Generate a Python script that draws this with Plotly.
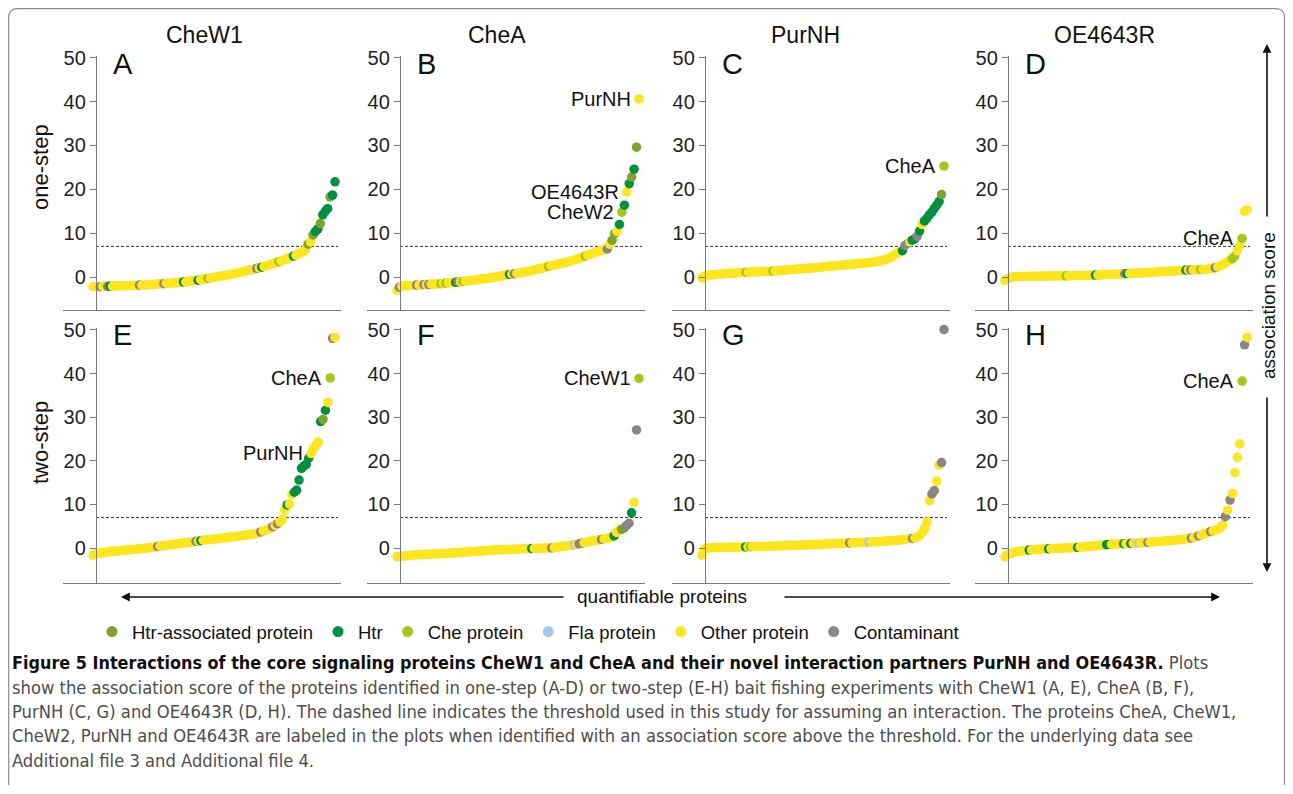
import plotly.graph_objects as go

# page is 1293x794; the html body adds an 8px margin, so the figure itself is a bit smaller
PAGE_W, PAGE_H = 1293, 794
BODY_MARGIN = 8
FW, FH = PAGE_W - 2 * BODY_MARGIN, PAGE_H - 2 * BODY_MARGIN - 1

# ---------------- data ----------------
cat_order = ["A", "H", "K", "F", "O", "C"]
cat_names = {"A": "Htr-associated protein", "H": "Htr", "K": "Che protein",
             "F": "Fla protein", "O": "Other protein", "C": "Contaminant"}
cat_colors = {"A": "#7ba52b", "H": "#00923f", "K": "#a5c817", "F": "#a8c8ea",
              "O": "#ffe51c", "C": "#8a8688"}

bait_titles = ["CheW1", "CheA", "PurNH", "OE4643R"]
panel_letters = ["A", "B", "C", "D", "E", "F", "G", "H"]
row_labels = ["one-step", "two-step"]
threshold = 7
y_ticks = [0, 10, 20, 30, 40, 50]

a_scores = [-2.2, -2.2, -2.2, -2.2, -2.1, -2.1, -2.1, -2.1,
            -2.1, -2.0, -2.0, -2.0, -2.0, -2.0, -1.9, -1.9, -1.9, -1.9, -1.9, -1.8, -1.8,
            -1.8, -1.8, -1.7, -1.7, -1.7, -1.6, -1.6, -1.5, -1.5, -1.4,
            -1.4, -1.4, -1.3, -1.3, -1.2, -1.2, -1.1, -1.1,
            -1.0, -0.9, -0.8, -0.8, -0.7, -0.6, -0.5,
            -0.4, -0.3, -0.2, -0.1, 0.0, 0.1, 0.2, 0.3, 0.35, 0.45,
            0.55, 0.7, 0.8, 0.9, 1.05, 1.2,
            1.3, 1.45, 1.6, 1.7, 1.85, 2.0, 2.1,
            2.25, 2.4, 2.6, 2.8, 2.95, 3.1, 3.3,
            3.5, 3.7, 3.9, 4.1, 4.3, 4.55, 4.8,
            5.0, 5.3, 5.5, 5.8, 6.3,
            7.5, 8.0, 9.6, 10.4, 11.0, 12.2, 14.2, 15.0, 15.6, 18.3, 18.7, 21.7]
a_special_idx = [3, 6, 7, 19, 29, 37, 43, 47, 67, 69, 76, 82, 88, 90, 91, 92, 93, 94, 95, 96, 97, 98, 99]
a_special_cat = ["C", "C", "H", "C", "C", "H", "H", "K", "C", "H", "K", "H",
                 "A", "A", "H", "H", "A", "H", "H", "H", "A", "H", "H"]
a_label_idx = []
a_label_text = []

b_scores = [-3.0, -2.3, -2.1, -2.0, -2.0, -1.9, -1.9, -1.9, -1.8, -1.8, -1.8, -1.7, -1.7,
            -1.7, -1.6, -1.6, -1.6, -1.5, -1.5, -1.4, -1.4, -1.3, -1.3, -1.2, -1.2, -1.1,
            -1.05, -1.0, -0.9, -0.85, -0.8, -0.7, -0.65, -0.6, -0.5, -0.4, -0.35, -0.3, -0.2, -0.1,
            0.0, 0.1, 0.2, 0.3, 0.4, 0.5, 0.6,
            0.7, 0.75, 0.85, 0.9, 1.0, 1.1, 1.2,
            1.3, 1.45, 1.6, 1.75, 1.9, 2.0, 2.15, 2.3, 2.45, 2.6,
            2.7, 2.8, 2.95, 3.1, 3.2, 3.35, 3.5,
            3.65, 3.8, 4.0, 4.2, 4.4, 4.6, 4.8,
            5.0, 5.2, 5.4, 5.6, 5.8, 6.0, 6.1, 6.2,
            6.4, 7.5, 8.4, 9.9, 10.4, 12.0, 14.8, 16.4, 19.4, 21.3, 22.8, 24.6, 29.6, 40.6]
b_special_idx = [1, 8, 11, 13, 18, 20, 24, 25, 27, 46, 48, 62, 77, 86, 88, 89, 91, 92, 93, 95, 96, 97, 98]
b_special_cat = ["C", "C", "C", "C", "K", "K", "H", "C", "K", "H", "C", "K", "K",
                 "C", "A", "A", "H", "K", "H", "H", "A", "H", "A"]
b_label_idx = [99, 94, 92]
b_label_text = ["PurNH", "OE4643R", "CheW2"]

c_scores = [-0.2, 0.2, 0.35, 0.45,
            0.5, 0.55, 0.6, 0.65, 0.7, 0.75, 0.8, 0.85, 0.9, 0.9, 0.95, 1.0, 1.0, 1.05, 1.1,
            1.1, 1.15, 1.15, 1.2, 1.2, 1.25, 1.25, 1.3, 1.3, 1.35, 1.4,
            1.4, 1.45, 1.5, 1.55, 1.6, 1.65, 1.7, 1.7, 1.75, 1.8, 1.85, 1.9, 2.0,
            2.0, 2.05, 2.1, 2.15, 2.2, 2.25, 2.3, 2.35, 2.4, 2.45, 2.5, 2.55, 2.6,
            2.65, 2.7, 2.75, 2.8, 2.85, 2.9, 2.95, 3.0, 3.05, 3.1, 3.15, 3.2, 3.25, 3.3,
            3.4, 3.5, 3.6, 3.7, 3.85, 4.0, 4.2, 4.5, 4.8, 5.2, 5.5, 5.8,
            6.0, 7.2, 7.6, 8.0, 8.4, 8.7, 9.3, 10.5, 12.0, 12.8, 13.4, 14.2, 14.8, 15.6, 16.4, 17.2, 18.8, 25.3]
c_special_idx = [18, 29, 82, 83, 84, 86, 87, 88, 89, 91, 92, 93, 94, 95, 96, 97, 98, 99]
c_special_cat = ["K", "K", "H", "C", "C", "H", "H", "C", "H", "H", "H", "H", "H", "H", "H", "H", "A", "K"]
c_label_idx = [99]
c_label_text = ["CheA"]

d_scores = [-0.8, -0.4, -0.2, 0.0, 0.1,
            0.1, 0.12, 0.14, 0.15, 0.16, 0.17, 0.18, 0.19, 0.2, 0.2, 0.21, 0.22, 0.23, 0.24, 0.25,
            0.26, 0.27, 0.28, 0.28, 0.29, 0.3,
            0.31, 0.32, 0.33, 0.34, 0.35, 0.36, 0.37, 0.38, 0.4, 0.42, 0.43, 0.45,
            0.47, 0.5, 0.52, 0.55, 0.57, 0.6, 0.62, 0.65, 0.68, 0.7, 0.73, 0.76, 0.8,
            0.83, 0.86, 0.89, 0.92, 0.95, 0.98, 1.0, 1.03, 1.06, 1.1, 1.13, 1.16, 1.2, 1.23, 1.26,
            1.3, 1.33, 1.36, 1.4, 1.44, 1.48, 1.52, 1.56, 1.6,
            1.62, 1.64, 1.66, 1.68, 1.7, 1.72, 1.75, 1.8, 1.85, 1.95, 2.05, 2.15, 2.3,
            2.5, 2.8, 3.1, 3.5, 3.8, 4.2,
            4.8, 6.0, 7.2, 8.8, 15.0, 15.3]
d_special_idx = [25, 37, 49, 50, 74, 76, 80, 86, 93, 94, 97]
d_special_cat = ["K", "H", "C", "H", "H", "C", "K", "C", "K", "K", "K"]
d_label_idx = [97]
d_label_text = ["CheA"]

e_scores = [-1.6, -1.4, -1.25, -1.15, -1.05, -0.95, -0.88, -0.8,
            -0.75, -0.7, -0.65, -0.6, -0.55, -0.5, -0.45, -0.4, -0.35, -0.3, -0.25, -0.2, -0.15, -0.1,
            -0.02, 0.05, 0.12, 0.2, 0.28, 0.36, 0.45,
            0.52, 0.6, 0.67, 0.74, 0.82, 0.9, 0.97, 1.04, 1.1, 1.17, 1.24, 1.31, 1.38, 1.45,
            1.55, 1.62, 1.7, 1.8,
            1.86, 1.92, 1.98, 2.04, 2.1, 2.16, 2.22, 2.3, 2.38, 2.45,
            2.52, 2.58, 2.64, 2.7, 2.76, 2.83, 2.9, 2.97, 3.05, 3.15, 3.25, 3.35, 3.5, 3.7,
            3.9, 4.1, 4.3, 4.5, 4.9, 5.2, 5.6, 6.0,
            6.6, 8.7, 9.9, 10.1, 12.3, 12.8, 13.3, 15.6, 18.3, 18.8, 19.2, 20.6, 21.7, 22.8,
            23.6, 24.3, 29.0, 29.5, 31.6, 33.4, 39.0, 48.1, 48.3]
e_special_idx = [27, 43, 45, 70, 75, 77, 81, 84, 85, 86, 87, 88, 89, 90, 95, 96, 97, 99, 100]
e_special_cat = ["C", "C", "H", "C", "C", "C", "H", "H", "H", "H", "H", "H", "H", "H",
                 "H", "A", "H", "K", "C"]
e_label_idx = [99, 91]
e_label_text = ["CheA", "PurNH"]

f_scores = [-2.0, -1.9, -1.85, -1.8, -1.75, -1.7, -1.65, -1.6, -1.55, -1.5, -1.5, -1.45, -1.4,
            -1.4, -1.37, -1.34, -1.31, -1.28, -1.25, -1.22, -1.19, -1.16, -1.13, -1.1, -1.05, -1.0,
            -0.96, -0.92, -0.88, -0.84, -0.8, -0.76, -0.72, -0.68, -0.64, -0.6, -0.55, -0.5, -0.45,
            -0.43, -0.41, -0.39, -0.37, -0.35, -0.33, -0.31, -0.29, -0.27, -0.25, -0.22, -0.19,
            -0.16, -0.14, -0.12, -0.1,
            -0.08, -0.06, -0.04, -0.02, 0.0, 0.02, 0.04, 0.05,
            0.12, 0.2, 0.28, 0.36, 0.44, 0.52, 0.6, 0.68, 0.76, 0.85,
            0.97, 1.1, 1.22, 1.35, 1.47, 1.6,
            1.7, 1.8, 1.9, 2.0, 2.1, 2.2, 2.35,
            2.5, 2.8, 3.6, 4.1, 4.3, 4.6, 5.2, 5.7, 8.1, 10.5, 27.1, 38.9]
f_special_idx = [54, 62, 71, 73, 74, 82, 87, 90, 91, 92, 93, 94, 96, 97]
f_special_cat = ["H", "C", "F", "C", "C", "C", "H", "A", "A", "C", "C", "H", "C", "K"]
f_label_idx = [97]
f_label_text = ["CheW1"]

g_scores = [-1.6, -0.2, 0.0, 0.05, 0.08, 0.1, 0.12, 0.14, 0.15,
            0.16, 0.17, 0.18, 0.19, 0.2, 0.21, 0.22, 0.24, 0.26, 0.28, 0.3,
            0.31, 0.33, 0.35, 0.36, 0.38, 0.4, 0.41, 0.43, 0.45, 0.47, 0.48, 0.5, 0.52, 0.54,
            0.55, 0.57, 0.59, 0.61, 0.63, 0.64, 0.66, 0.68, 0.7,
            0.72, 0.75, 0.77, 0.8, 0.82, 0.85, 0.87, 0.9, 0.92, 0.95, 0.97, 1.0, 1.02, 1.05,
            1.07, 1.1, 1.12, 1.15, 1.17, 1.2,
            1.22, 1.25, 1.27, 1.3, 1.32, 1.35, 1.37, 1.4,
            1.43, 1.46, 1.49, 1.52, 1.56, 1.6, 1.64, 1.68, 1.72, 1.77, 1.83, 1.9, 2.0,
            2.05, 2.1, 2.15, 2.2, 2.3, 2.5, 2.9, 3.6,
            4.5, 6.0, 10.9, 12.4, 13.2, 15.3, 19.0, 19.6, 50.1]
g_special_idx = [18, 20, 61, 69, 87, 95, 96, 99, 100]
g_special_cat = ["H", "K", "C", "F", "C", "C", "C", "C", "C"]
g_label_idx = []
g_label_text = []

h_scores = [-2.0, -1.6, -1.3, -1.1, -0.95, -0.85, -0.75, -0.65, -0.58, -0.5, -0.45,
            -0.41, -0.37, -0.33, -0.29, -0.25, -0.22, -0.2,
            -0.17, -0.14, -0.11, -0.08, -0.05, -0.02, 0.0, 0.03, 0.06, 0.08, 0.1, 0.12, 0.15,
            0.2, 0.25, 0.3, 0.35, 0.4, 0.45, 0.5, 0.55, 0.6, 0.65, 0.7, 0.78, 0.85,
            0.87, 0.9, 0.92, 0.95, 0.97, 1.0, 1.02, 1.05, 1.07, 1.1,
            1.13, 1.16, 1.2, 1.23, 1.27, 1.3,
            1.35, 1.4, 1.44, 1.49, 1.53, 1.58, 1.62, 1.67, 1.72, 1.77, 1.82, 1.87, 1.93, 1.99,
            2.05, 2.12, 2.2, 2.3, 2.4,
            2.6, 2.8, 3.0, 3.2, 3.4, 3.6, 3.8, 3.9, 4.1, 4.4,
            4.7, 5.3, 7.2, 8.7, 11.0, 12.5, 17.3, 20.8, 23.9, 38.3, 46.6, 48.3]
h_special_idx = [10, 18, 30, 42, 43, 49, 52, 55, 59, 77, 80, 85, 91, 93, 98, 99]
h_special_cat = ["H", "H", "H", "H", "H", "H", "H", "F", "C", "C", "C", "C", "C", "C", "K", "C"]
h_label_idx = [98]
h_label_text = ["CheA"]

caption_title = ("Figure 5 Interactions of the core signaling proteins CheW1 and CheA "
                 "and their novel interaction partners PurNH and OE4643R.")
caption_lines = [
    "Plots",
    "show the association score of the proteins identified in one-step (A-D) or two-step (E-H) bait "
    "fishing experiments with CheW1 (A, E), CheA (B, F),",
    "PurNH (C, G) and OE4643R (D, H). The dashed line indicates the threshold used in this study for "
    "assuming an interaction. The proteins CheA, CheW1,",
    "CheW2, PurNH and OE4643R are labeled in the plots when identified with an association score "
    "above the threshold. For the underlying data see",
    "Additional file 3 and Additional file 4.",
]

panels = [
    (a_scores, a_special_idx, a_special_cat, a_label_idx, a_label_text),
    (b_scores, b_special_idx, b_special_cat, b_label_idx, b_label_text),
    (c_scores, c_special_idx, c_special_cat, c_label_idx, c_label_text),
    (d_scores, d_special_idx, d_special_cat, d_label_idx, d_label_text),
    (e_scores, e_special_idx, e_special_cat, e_label_idx, e_label_text),
    (f_scores, f_special_idx, f_special_cat, f_label_idx, f_label_text),
    (g_scores, g_special_idx, g_special_cat, g_label_idx, g_label_text),
    (h_scores, h_special_idx, h_special_cat, h_label_idx, h_label_text),
]

# ---------------- geometry / style (page pixel coordinates) ----------------
FONT = "Liberation Sans, Arial, Helvetica, sans-serif"
CAP_FONT = "DejaVu Sans Condensed, Liberation Sans Narrow, Arial Narrow, sans-serif"
AXIS_GRAY = "#7a7a7a"
col_x0 = [96, 400, 705, 1008]          # y-axis pixel position of each column
row_dom_px = [(55.5, 310.0), (327.8, 583.0)]
row_range = [(-7.5, 50.5), (-8.0, 50.5)]
letter_y = [64, 335]
title_cx = [204, 497, 805, 1104]


def px(x):
    return (x - BODY_MARGIN) / FW


def py(y):
    return 1 - (y - BODY_MARGIN) / FH


fig = go.Figure()
layout = {}
shapes = []
annotations = []

for k, (scores, sidx, scat, lidx, ltxt) in enumerate(panels):
    r, c = divmod(k, 4)
    n = len(scores)
    colors = [cat_colors["O"]] * n
    for i, ct in zip(sidx, scat):
        colors[i] = cat_colors[ct]
    sfx = "" if k == 0 else str(k + 1)
    fig.add_trace(go.Scatter(
        x=list(range(n)), y=scores, mode="markers",
        marker=dict(color=colors, size=9.5, line=dict(width=0)),
        xaxis="x" + sfx, yaxis="y" + sfx, showlegend=False, cliponaxis=False,
        hovertemplate="score %{y}<extra></extra>"))
    X0 = col_x0[c]
    ppi = 242.0 / (n - 1)
    top, bot = row_dom_px[r]
    layout["xaxis" + sfx] = dict(
        domain=[px(X0 - 33), px(X0 + 245)], range=[-30 / ppi, (n - 1) + 6 / ppi],
        anchor="y" + sfx, showline=True, linecolor=AXIS_GRAY, linewidth=1.3,
        showticklabels=False, ticks="", showgrid=False, zeroline=False, fixedrange=True,
        automargin=False)
    layout["yaxis" + sfx] = dict(
        domain=[py(bot), py(top)], range=list(row_range[r]), anchor="free",
        position=px(X0), showline=True, linecolor=AXIS_GRAY, linewidth=1.3,
        tickvals=y_ticks, ticks="outside", ticklen=6, tickwidth=1.3, tickcolor=AXIS_GRAY,
        tickfont=dict(family=FONT, size=20, color="#222222"),
        showgrid=False, zeroline=False, fixedrange=True, automargin=False)
    shapes.append(dict(type="line", xref="paper", yref="y" + sfx,
                       x0=px(X0), x1=px(X0 + 242), y0=threshold, y1=threshold,
                       line=dict(color="#333333", width=1, dash="3px,2px"), layer="below"))
    annotations.append(dict(text=panel_letters[k], xref="paper", yref="paper",
                            x=px(X0 + 15), y=py(letter_y[r]), xanchor="left", yanchor="middle",
                            showarrow=False, font=dict(family=FONT, size=29, color="#111")))
    for i, t in zip(lidx, ltxt):
        annotations.append(dict(text=t, xref="x" + sfx, yref="y" + sfx, x=i, y=scores[i],
                                xanchor="right", yanchor="middle", xshift=-6, showarrow=False,
                                font=dict(family=FONT, size=20, color="#111")))

# column titles and row labels
for c, t in enumerate(bait_titles):
    annotations.append(dict(text=t, xref="paper", yref="paper", x=px(title_cx[c]), y=py(35),
                            xanchor="center", yanchor="middle", showarrow=False,
                            font=dict(family=FONT, size=23, color="#111")))
for r, (t, yc) in enumerate(zip(row_labels, [167, 443])):
    annotations.append(dict(text=t, xref="paper", yref="paper", x=px(40), y=py(yc),
                            xanchor="center", yanchor="middle", textangle=-90, showarrow=False,
                            font=dict(family=FONT, size=22, color="#111")))

# axis arrows
arrow_style = dict(showarrow=True, arrowhead=2, arrowsize=1.1, arrowwidth=1.6,
                   arrowcolor="#111", text="", xref="paper", yref="paper", axref="pixel", ayref="pixel")
annotations.append(dict(x=px(1267), y=py(44), ax=0, ay=218 - 44, **arrow_style))
annotations.append(dict(x=px(1267), y=py(572), ax=0, ay=396 - 572, **arrow_style))
annotations.append(dict(text="association score", xref="paper", yref="paper", x=px(1268), y=py(306),
                        xanchor="center", yanchor="middle", textangle=-90, showarrow=False,
                        font=dict(family=FONT, size=19, color="#111")))
annotations.append(dict(x=px(121), y=py(597), ax=565 - 121, ay=0, **arrow_style))
annotations.append(dict(x=px(1220), y=py(597), ax=783 - 1220, ay=0, **arrow_style))
annotations.append(dict(text="quantifiable proteins", xref="paper", yref="paper", x=px(662), y=py(596),
                        xanchor="center", yanchor="middle", showarrow=False,
                        font=dict(family=FONT, size=19, color="#111")))

# caption
annotations.append(dict(
    text=("<span style='font-size:17.85px'><b>" + caption_title + "</b></span> "
          "<span style='color:#4d4d4d'>" + caption_lines[0] + "</span>"),
    xref="paper", yref="paper", x=px(10), y=py(662), xanchor="left", yanchor="middle",
    showarrow=False, font=dict(family=CAP_FONT, size=18.2, color="#111")))
for j, line in enumerate(caption_lines[1:]):
    annotations.append(dict(text=line, xref="paper", yref="paper", x=px(10), y=py(687 + 24.4 * j),
                            xanchor="left", yanchor="middle", showarrow=False,
                            font=dict(family=CAP_FONT, size=18.2, color="#4d4d4d")))

# figure frame (rounded)
xl, xr, yt, yb, rad = 8.7, 1284.5, 8.7, 820, 9
frame = (f"M {px(xl)},{py(yb)} L {px(xl)},{py(yt + rad)} Q {px(xl)},{py(yt)} {px(xl + rad)},{py(yt)} "
         f"L {px(xr - rad)},{py(yt)} Q {px(xr)},{py(yt)} {px(xr)},{py(yt + rad)} L {px(xr)},{py(yb)}")
shapes.append(dict(type="path", xref="paper", yref="paper", path=frame,
                   line=dict(color="#8c8c8c", width=1.2), layer="below"))

# legend entries (one per category)
for ct in cat_order:
    fig.add_trace(go.Scatter(x=[None], y=[None], mode="markers", name=cat_names[ct],
                             marker=dict(color=cat_colors[ct], size=11), showlegend=True,
                             hoverinfo="skip"))

fig.update_layout(
    width=FW, height=FH, margin=dict(l=0, r=0, t=0, b=0, autoexpand=False),
    paper_bgcolor="white", plot_bgcolor="rgba(0,0,0,0)",
    font=dict(family=FONT, color="#111"),
    shapes=shapes, annotations=annotations,
    legend=dict(orientation="h", x=px(92), y=py(632), xanchor="left", yanchor="middle",
                font=dict(family=FONT, size=18.5, color="#111"), bgcolor="rgba(0,0,0,0)",
                itemclick=False, itemdoubleclick=False),
    **layout)

fig.write_html("out.html")
